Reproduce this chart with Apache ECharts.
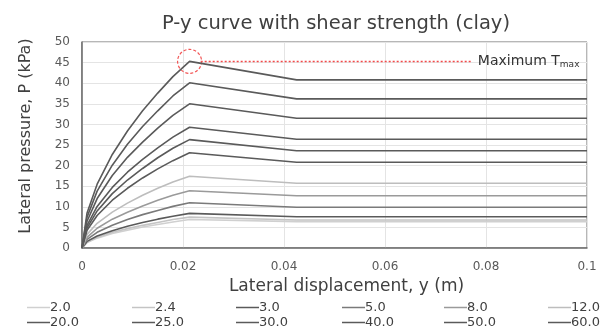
<!DOCTYPE html>
<html lang="en">
<head>
    <meta charset="UTF-8">
    <title>P-y curve</title>
    <script src="https://cdn.jsdelivr.net/npm/echarts@6/dist/echarts.min.js"></script>
</head>
<body style="margin: 0;">
<div id="container" style="width: 613px; height: 329px;"></div>
<script type="text/javascript">
    // displacement points (m)
    let yDisp = [0, 0.001, 0.003, 0.006, 0.009, 0.012, 0.015, 0.018, 0.0213, 0.0425, 0.1];

    let names = ['2.0', '2.4', '3.0', '5.0', '8.0', '12.0', '20.0', '25.0', '30.0', '40.0', '50.0', '60.0'];

    // lateral pressure (kPa) for each curve
    let p20 = [0, 1.3, 2.4, 3.5, 4.3, 5.1, 5.7, 6.3, 6.9, 6.4, 6.4];
    let p24 = [0, 1.4, 2.6, 3.8, 4.7, 5.5, 6.2, 6.9, 7.5, 6.8, 6.8];
    let p30 = [0, 1.6, 2.9, 4.2, 5.3, 6.2, 7.0, 7.7, 8.4, 7.6, 7.6];
    let p50 = [0, 2.1, 3.8, 5.5, 6.9, 8.1, 9.1, 10.1, 11.0, 9.9, 9.9];
    let p80 = [0, 2.6, 4.8, 7.0, 8.7, 10.2, 11.6, 12.8, 13.9, 12.7, 12.7];
    let p120 = [0, 3.3, 6.0, 8.7, 10.9, 12.8, 14.5, 16.0, 17.4, 15.7, 15.7];
    let p200 = [0, 4.3, 7.9, 11.6, 14.5, 17.0, 19.2, 21.2, 23.1, 20.8, 20.8];
    let p250 = [0, 4.9, 9.0, 13.2, 16.5, 19.3, 21.9, 24.2, 26.3, 23.6, 23.6];
    let p300 = [0, 5.5, 10.1, 14.7, 18.4, 21.5, 24.3, 26.9, 29.3, 26.4, 26.4];
    let p400 = [0, 6.5, 12.0, 17.6, 22.0, 25.7, 29.1, 32.2, 35.0, 31.5, 31.5];
    let p500 = [0, 7.5, 13.8, 20.1, 25.2, 29.5, 33.3, 36.9, 40.1, 36.2, 36.2];
    let p600 = [0, 8.5, 15.5, 22.7, 28.4, 33.3, 37.6, 41.6, 45.3, 40.8, 40.8];

    let allP = [p20, p24, p30, p50, p80, p120, p200, p250, p300, p400, p500, p600];
    let colors = ['#d0d0d0', '#c4c4c4', '#5a5a5a', '#7a7a7a', '#9a9a9a', '#bdbdbd',
        '#5a5a5a', '#5a5a5a', '#5a5a5a', '#5a5a5a', '#5a5a5a', '#5a5a5a'];

    // annotation of max value
    let peakY = 0.0213;
    let peakP = 45.3;
    let dashEndY = 0.0772;

    let font = '"DejaVu Sans", sans-serif';

    let series = names.map(function (n, i) {
        let s = {
            type: 'line',
            name: n,
            data: yDisp.map(function (x, j) { return [x, allP[i][j]]; }),
            symbol: 'none',
            lineStyle: {width: 1.6, color: colors[i]},
            itemStyle: {color: colors[i]},
            z: 2 + i
        };
        if (n === '60.0') {
            s.markPoint = {
                symbol: 'circle',
                symbolSize: 24,
                silent: true,
                label: {show: false},
                itemStyle: {color: 'rgba(0,0,0,0)', borderColor: '#f25555', borderWidth: 1.2, borderType: [3, 2]},
                data: [{coord: [peakY, peakP]}]
            };
            s.markLine = {
                symbol: 'none',
                silent: true,
                lineStyle: {color: '#f24a4a', type: [2, 2], width: 1.3, opacity: 1},
                emphasis: {disabled: true},
                label: {
                    show: true,
                    position: 'end',
                    distance: 6,
                    formatter: 'Maximum T{sub|max}',
                    color: '#333',
                    fontFamily: font,
                    fontSize: 14,
                    rich: {sub: {fontSize: 9, padding: [7, 0, 0, 0], fontFamily: font, color: '#333'}}
                },
                data: [[{coord: [peakY + 0.0022, peakP]}, {coord: [dashEndY, peakP]}]]
            };
        }
        return s;
    });

    let colX = [27, 132, 236, 342, 444, 548];
    let legends = names.map(function (n, i) {
        return {
            data: [n],
            left: colX[i % 6],
            top: i < 6 ? 301 : 316,
            icon: 'rect',
            itemWidth: 23,
            itemHeight: 1.5,
            itemGap: 0,
            padding: 0,
            textStyle: {fontFamily: font, fontSize: 13, color: '#404040', padding: [0, 0, 0, -5]}
        };
    });

    let chart = echarts.init(document.getElementById('container'));
    chart.setOption({
        animation: false,
        title: {
            text: 'P-y curve with shear strength (clay)',
            left: 157,
            top: 9,
            textStyle: {fontFamily: font, fontSize: 19.5, fontWeight: 'normal', color: '#404040'}
        },
        legend: legends,
        grid: {left: 82, right: 26, top: 42, bottom: 81, show: true, borderColor: '#6e6e6e', borderWidth: 1},
        xAxis: {
            type: 'value',
            min: 0, max: 0.1, interval: 0.02,
            name: 'Lateral displacement, y (m)',
            nameLocation: 'middle',
            nameGap: 29,
            nameTextStyle: {fontFamily: font, fontSize: 17, color: '#404040', padding: [0, 0, 0, 24]},
            axisLine: {lineStyle: {color: '#6e6e6e', width: 1.5}},
            axisTick: {show: false},
            axisLabel: {fontFamily: font, fontSize: 12, color: '#595959', margin: 13,
                formatter: function (v) { return String(Math.round(v * 100) / 100); }},
            splitLine: {lineStyle: {color: '#e4e4e4'}}
        },
        yAxis: {
            type: 'value',
            min: 0, max: 50, interval: 5,
            name: 'Lateral pressure, P (kPa)',
            nameLocation: 'middle',
            nameGap: 48,
            nameTextStyle: {fontFamily: font, fontSize: 16, color: '#404040', padding: [0, 0, 0, 18]},
            axisLine: {show: true, lineStyle: {color: '#6e6e6e', width: 1.5}},
            axisTick: {show: false},
            axisLabel: {fontFamily: font, fontSize: 12, color: '#595959', margin: 12},
            splitLine: {lineStyle: {color: '#e4e4e4'}}
        },
        series: series
    });
</script>
</body>
</html>
